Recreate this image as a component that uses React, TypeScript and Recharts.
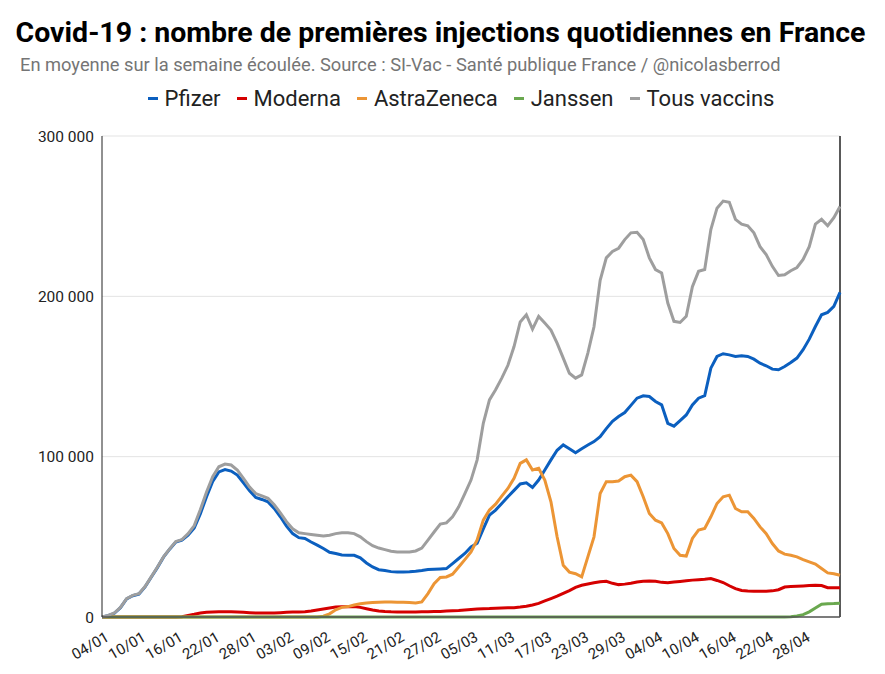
import React from 'react';
import { LineChart, Line, XAxis, YAxis, CartesianGrid, ReferenceLine } from 'recharts';

// --- Dates (dd/mm, 2021), one point per day ---
const dates = [
  '04/01', '05/01', '06/01', '07/01', '08/01', '09/01', '10/01', '11/01', '12/01', '13/01', '14/01', '15/01', '16/01', '17/01',
  '18/01', '19/01', '20/01', '21/01', '22/01', '23/01', '24/01', '25/01', '26/01', '27/01', '28/01', '29/01', '30/01', '31/01',
  '01/02', '02/02', '03/02', '04/02', '05/02', '06/02', '07/02', '08/02', '09/02', '10/02', '11/02', '12/02', '13/02', '14/02',
  '15/02', '16/02', '17/02', '18/02', '19/02', '20/02', '21/02', '22/02', '23/02', '24/02', '25/02', '26/02', '27/02', '28/02',
  '01/03', '02/03', '03/03', '04/03', '05/03', '06/03', '07/03', '08/03', '09/03', '10/03', '11/03', '12/03', '13/03', '14/03',
  '15/03', '16/03', '17/03', '18/03', '19/03', '20/03', '21/03', '22/03', '23/03', '24/03', '25/03', '26/03', '27/03', '28/03',
  '29/03', '30/03', '31/03', '01/04', '02/04', '03/04', '04/04', '05/04', '06/04', '07/04', '08/04', '09/04', '10/04', '11/04',
  '12/04', '13/04', '14/04', '15/04', '16/04', '17/04', '18/04', '19/04', '20/04', '21/04', '22/04', '23/04', '24/04', '25/04',
  '26/04', '27/04', '28/04', '29/04', '30/04', '01/05', '02/05', '03/05', '04/05',
];

const xTicks = [
  '04/01', '10/01', '16/01', '22/01', '28/01', '03/02', '09/02', '15/02', '21/02', '27/02',
  '05/03', '11/03', '17/03', '23/03', '29/03', '04/04', '10/04', '16/04', '22/04', '28/04',
];

// --- Values in thousands of first injections (7-day average) ---
const pfizer = [
  0, 0.8, 2.3, 5.8, 11.3, 13.3, 14.3, 18.8, 24.8, 30.8, 37.3, 42.3, 46.8, 48, 51, 55.5, 64.5, 75, 84.5, 90.5,
  92, 91, 88.5, 83.7, 78.7, 74.5, 73.3, 71.8, 67.7, 62.5, 56.7, 52, 49.5, 49, 46.8, 44.8, 42.7, 40.4, 39.6, 38.7,
  38.5, 38.5, 36.9, 33.7, 31.2, 29.5, 29, 28.3, 28, 28.1, 28.2, 28.5, 29, 29.6, 29.8, 30, 30.2, 33.3, 36.5, 39.6, 43.7,
  46, 55, 63.5, 66.7, 70.8, 75, 79, 83, 83.7, 80.8, 85.4, 91.7, 98, 104, 107.3, 105, 102.5, 105, 107.3, 109.4,
  112.5, 117.5, 122, 125, 127.5, 132, 136.5, 138, 137.5, 134.4, 132.3, 120.8, 119, 122.5, 126, 132.3, 136.5, 138, 155.2, 162.5,
  164.2, 163.5, 162.5, 163, 162.5, 160.8, 158.3, 156.7, 154.6, 154.2, 156.2, 158.7, 161.5, 166.7, 173.3, 181.2, 188.5, 190, 193.7, 202.5,
];

const moderna = [
  0, 0, 0, 0, 0, 0, 0, 0, 0, 0, 0, 0, 0, 0.2, 1, 1.7, 2.5, 2.9, 3.1, 3.3,
  3.3, 3.3, 3.1, 2.9, 2.7, 2.5, 2.5, 2.5, 2.5, 2.7, 2.9, 3.1, 3.1, 3.3, 3.7, 4.4, 5, 5.6, 6.2, 6.4,
  6.4, 6.6, 6, 5.2, 4.4, 3.7, 3.4, 3.2, 3.1, 3.1, 3.1, 3.1, 3.2, 3.3, 3.4, 3.5, 3.7, 3.9, 4.1, 4.4, 4.7,
  5, 5.2, 5.3, 5.5, 5.6, 5.7, 5.8, 6.2, 6.7, 7.5, 8.5, 10, 11.5, 13, 14.8, 16.5, 18.5, 19.8, 20.6, 21.3,
  22, 22.3, 21, 20.2, 20.5, 21, 21.8, 22.3, 22.5, 22.3, 21.6, 21.3, 21.8, 22.2, 22.6, 23, 23.3, 23.6, 24, 22.8,
  21.5, 19.5, 17.7, 16.5, 16.2, 16, 16, 16, 16.3, 17, 18.7, 19, 19.2, 19.4, 19.6, 19.8, 19.6, 18.3, 18.2, 18.3,
];

const astraZeneca = [
  0, 0, 0, 0, 0, 0, 0, 0, 0, 0, 0, 0, 0, 0, 0, 0, 0, 0, 0, 0,
  0, 0, 0, 0, 0, 0, 0, 0, 0, 0, 0, 0, 0, 0, 0, 0, 0.5, 2, 4.5, 6,
  6.5, 7.5, 8.3, 8.8, 9, 9.2, 9.3, 9.3, 9.2, 9.2, 9, 8.8, 9.4, 14.6, 20.8, 24.6, 25, 26.7, 31.2, 35.8, 40.6,
  48, 60.4, 66.7, 70.4, 75.4, 80.2, 86.5, 95.8, 98, 91.7, 92.7, 85.4, 71.9, 50, 32.3, 28, 27, 25, 37.5, 50,
  77, 84.4, 84.4, 84.8, 87.5, 88.5, 84.4, 75, 64.6, 60.4, 58.7, 52, 42.7, 38.5, 38, 49, 54.2, 55.2, 62.5, 70.8,
  75, 76, 67.7, 65.6, 65.6, 61.5, 56.2, 52, 45.8, 41.2, 39.2, 38.5, 37.5, 35.8, 34.4, 33, 30.2, 27.5, 27, 26,
];

const janssen = [
  0, 0, 0, 0, 0, 0, 0, 0, 0, 0, 0, 0, 0, 0, 0, 0, 0, 0, 0, 0,
  0, 0, 0, 0, 0, 0, 0, 0, 0, 0, 0, 0, 0, 0, 0, 0, 0, 0, 0, 0,
  0, 0, 0, 0, 0, 0, 0, 0, 0, 0, 0, 0, 0, 0, 0, 0, 0, 0, 0, 0, 0,
  0, 0, 0, 0, 0, 0, 0, 0, 0, 0, 0, 0, 0, 0, 0, 0, 0, 0, 0, 0,
  0, 0, 0, 0, 0, 0, 0, 0, 0, 0, 0, 0, 0, 0, 0, 0, 0, 0, 0, 0,
  0, 0, 0, 0, 0, 0, 0, 0, 0, 0, 0, 0.2, 0.6, 1.5, 3.2, 5.6, 8, 8.3, 8.4, 8.6,
];

const tousVaccins = [
  0, 1, 2.5, 6, 11.5, 13.5, 14.5, 19, 25, 31, 37.5, 42.5, 47, 48.3, 52, 57, 67, 78, 87.5, 93.7,
  95.4, 94.8, 91.7, 86.5, 81, 77, 75.5, 74, 70, 65, 59.5, 55, 52.5, 52, 51.5, 51, 50.5, 51, 52, 52.5,
  52.5, 52, 50, 47, 44.5, 43, 42, 41, 40.6, 40.6, 40.6, 41.2, 43, 48, 53, 58, 58.7, 62.5, 68.7, 77, 85.4,
  98, 120.8, 135.4, 141.7, 149, 157, 168.7, 184, 188.5, 179.6, 187.5, 183.3, 179, 170.8, 161.5, 152, 149, 151, 164.6, 181,
  210, 224, 228, 230, 235.4, 239.6, 240, 235.4, 224, 216.7, 214.6, 195.8, 184.4, 183.7, 187.5, 206, 215.6, 216.7, 241.7, 255,
  259.4, 258.7, 248, 245, 244, 239.6, 231, 226, 218.7, 213, 213.5, 216, 218, 223, 231, 245, 248, 244, 249, 256,
];

const yTicks = [0, 100, 200, 300];

const SERIES = [
  { key: 'pfizer', name: 'Pfizer', color: '#0b5fbf' },
  { key: 'moderna', name: 'Moderna', color: '#d50000' },
  { key: 'astra', name: 'AstraZeneca', color: '#ec9535' },
  { key: 'janssen', name: 'Janssen', color: '#6aa84f' },
  { key: 'tous', name: 'Tous vaccins', color: '#9e9e9e' },
];

const data = dates.map((date, i) => ({
  date,
  pfizer: pfizer[i],
  moderna: moderna[i],
  astra: astraZeneca[i],
  janssen: janssen[i],
  tous: tousVaccins[i],
}));

const FONT = 'Roboto, "Liberation Sans", Arial, sans-serif';

const fmtY = (v: number) => (v === 0 ? '0' : `${v} 000`);

// rotated date labels
const DateTick = ({ x, y, payload }: any) => (
  <g transform={`translate(${x + 8},${y + 15})`}>
    <text
      x={0}
      y={0}
      textAnchor="end"
      transform="rotate(-30)"
      fill="#222"
      fontSize={15}
      fontFamily={FONT}
    >
      {payload.value}
    </text>
  </g>
);

export default function App() {
  return (
    <div style={{ position: 'absolute', left: 0, top: 0, width: 885, height: 674, background: '#fff', fontFamily: FONT }}>
      <div style={{ position: 'absolute', left: 0, top: 16, width: 881, textAlign: 'center', fontSize: 28.5, fontWeight: 'bold', color: '#000' }}>
        Covid-19 : nombre de premières injections quotidiennes en France
      </div>
      <div style={{ position: 'absolute', left: 20, top: 54, fontSize: 18.3, color: '#757575' }}>
        En moyenne sur la semaine écoulée. Source : SI-Vac - Santé publique France / @nicolasberrod
      </div>
      <div style={{ position: 'absolute', left: 0, top: 86, width: 922, display: 'flex', justifyContent: 'center', gap: 16, fontSize: 22, color: '#222' }}>
        {SERIES.map((s) => (
          <div key={s.key} style={{ display: 'flex', alignItems: 'center' }}>
            <span style={{ display: 'inline-block', width: 10, height: 3, background: s.color, marginRight: 7 }} />
            <span>{s.name}</span>
          </div>
        ))}
      </div>
      <div style={{ position: 'absolute', left: 0, top: 0 }}>
        <LineChart width={885} height={674} data={data} margin={{ top: 136, right: 45, bottom: 7, left: 0 }}>
          <CartesianGrid horizontal vertical={false} stroke="#e3e3e3" />
          <XAxis
            dataKey="date"
            ticks={xTicks}
            interval={0}
            tick={<DateTick />}
            tickLine={false}
            axisLine={{ stroke: '#555', strokeWidth: 1.5 }}
            height={50}
          />
          <YAxis
            domain={[0, 300]}
            ticks={yTicks}
            tickFormatter={fmtY}
            tickLine={false}
            axisLine={{ stroke: '#222' }}
            width={102}
            tick={{ fill: '#222', fontSize: 15.5, fontFamily: FONT }}
          />
          <ReferenceLine x="04/05" stroke="#222" strokeWidth={1.5} />
          {SERIES.map((s) => (
            <Line
              key={s.key}
              dataKey={s.key}
              name={s.name}
              type="linear"
              stroke={s.color}
              strokeWidth={3}
              dot={false}
              isAnimationActive={false}
            />
          ))}
        </LineChart>
      </div>
    </div>
  );
}
